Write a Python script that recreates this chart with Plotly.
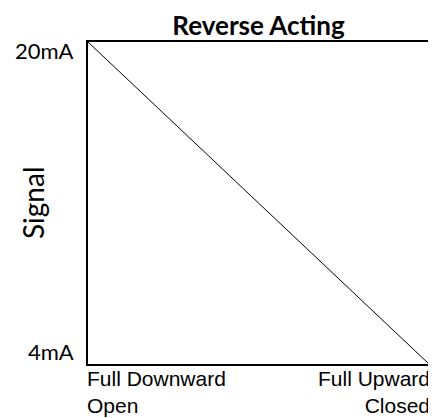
import plotly.graph_objects as go

positions = [0, 1]
signal_ma = [20, 4]
y_tick_vals = [20, 4]
y_tick_labels = ["20mA", "4mA"]
x_labels_left = "Full Downward<br>Open"
x_labels_right = "Full Upward<br>Closed"
title = "Reverse Acting"
y_title = "Signal"

fig = go.Figure()
fig.add_trace(go.Scatter(x=positions, y=signal_ma, mode="lines",
                         line=dict(color="black", width=1), showlegend=False,
                         hoverinfo="skip"))

# page body has an 8px margin, so the figure is shifted by 8px
fig.update_layout(
    width=428, height=410,
    margin=dict(l=80, r=5, t=34, b=54),
    paper_bgcolor="white", plot_bgcolor="white",
    showlegend=False,
    title=dict(text="<b>" + title + "</b>", x=0.5, xanchor="center",
               xref="paper", y=1 - 18 / 410, yref="container", yanchor="middle",
               font=dict(family="Lato", size=26, color="black")),
)
fig.update_xaxes(range=[0, 1], showgrid=False, zeroline=False, showticklabels=False,
                 ticks="", showline=True, linecolor="black", linewidth=2, mirror=True)
fig.update_yaxes(range=[4, 20], showgrid=False, zeroline=False, showticklabels=False,
                 ticks="", showline=True, linecolor="black", linewidth=2, mirror=True)

fig.add_annotation(text=y_title, xref="paper", yref="paper", x=0, y=0.5,
                   xshift=-55, textangle=-90, xanchor="center", yanchor="middle",
                   showarrow=False, font=dict(family="Lato", size=28, color="black"))
offsets = {20: -8, 4: 13}
for v, t in zip(y_tick_vals, y_tick_labels):
    fig.add_annotation(text=t, xref="paper", yref="y", x=0, y=v, yshift=offsets[v],
                       xanchor="right", yanchor="middle", xshift=-12,
                       showarrow=False, font=dict(family="Lato", size=22, color="black"))
fig.add_annotation(text=x_labels_left, xref="x", yref="paper", x=positions[0], y=0,
                   xanchor="left", yanchor="top", align="left", yshift=-1, xshift=-3,
                   showarrow=False,
                   font=dict(family="Liberation Sans", size=21, color="black"))
fig.add_annotation(text=x_labels_right, xref="x", yref="paper", x=positions[1], y=0,
                   xanchor="right", yanchor="top", align="right", yshift=-1, xshift=3,
                   showarrow=False,
                   font=dict(family="Liberation Sans", size=21, color="black"))

fig.write_html("out.html")
